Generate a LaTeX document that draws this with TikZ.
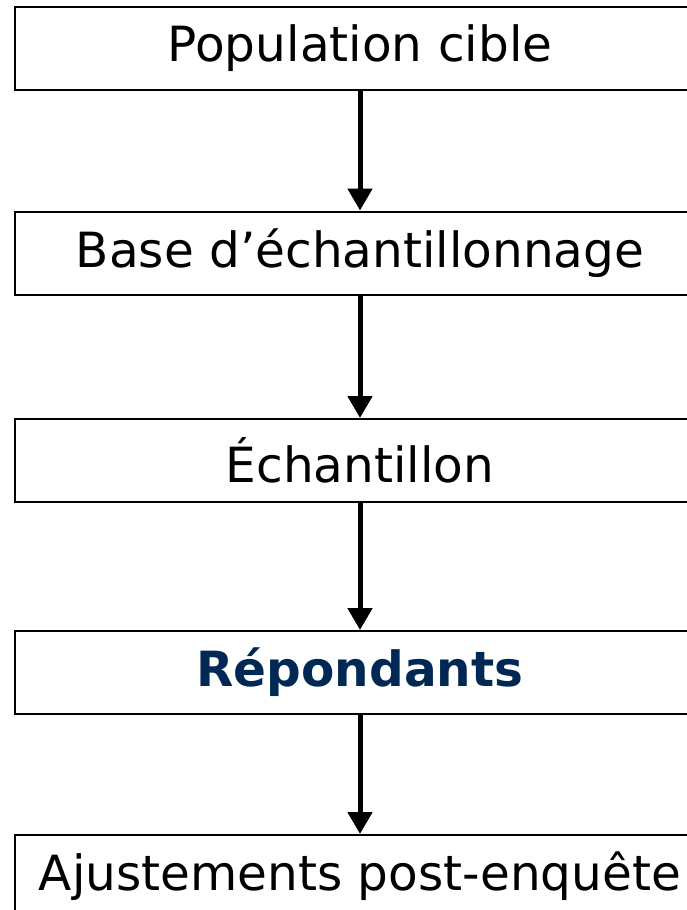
\documentclass[tikz,border=0pt]{standalone}
\usepackage{fontspec}
\setmainfont{DejaVu Sans}
\usetikzlibrary{arrows.meta}
\definecolor{navy}{RGB}{0,40,85}
\begin{document}
\begin{tikzpicture}[x=1pt,y=-1pt,
  stepbox/.style={draw=black,line width=2pt,minimum width=690pt,minimum height=83pt,inner sep=0pt,font=\fontsize{48.5}{56}\selectfont},
  flow/.style={line width=5pt,-{Triangle[length=22pt,width=24pt]}}]
\useasboundingbox (0,0) rectangle (687,910);
\node[stepbox] (a) at (360,48.5) {Population cible};
\node[stepbox] (b) at (360,253) {Base d’échantillonnage};
\node[stepbox] (c) at (360,460.5) {Échantillon};
\node[stepbox,text=navy,font=\fontsize{48.5}{56}\selectfont\bfseries] (d) at (360,672.5) {Répondants};
\node[stepbox] (e) at (360,876.5) {Ajustements post-enquête};
\draw[flow] (a) -- (b);
\draw[flow] (b) -- (c);
\draw[flow] (c) -- (d);
\draw[flow] (d) -- (e);
\end{tikzpicture}
\end{document}
